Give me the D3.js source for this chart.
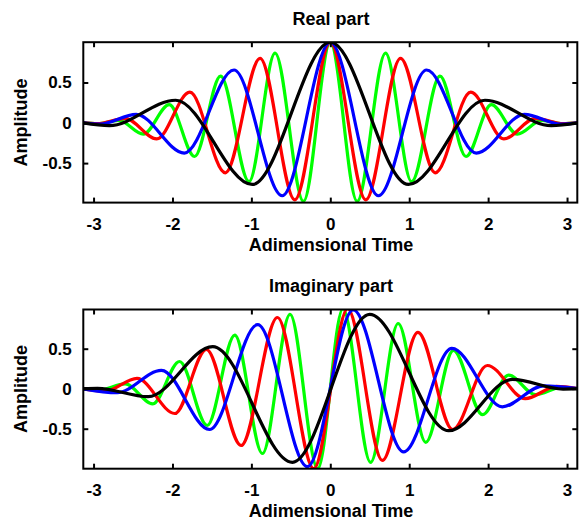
<!DOCTYPE html>
<html>
<head>
<meta charset="utf-8">
<script src="https://cdn.jsdelivr.net/npm/d3@7"></script>
<style>
  body { margin: 0; background: #fff; }
  text { font-family: "Liberation Sans", Arial, Helvetica, sans-serif; font-weight: bold; fill: #000; }
</style>
</head>
<body>
<svg id="chart" width="582" height="521"></svg>
<script>
// Tick values and labels
const xTicks = [-3, -2, -1, 0, 1, 2, 3];
const xTickLabels = ["-3", "-2", "-1", "0", "1", "2", "3"];
const yTicks = [-0.5, 0, 0.5];
const yTickLabels = ["-0.5", "0", "0.5"];

const seriesNames = ["green", "red", "blue", "black"];
const seriesColors = ["#00ff00", "#ff0000", "#0000ff", "#000000"];

// Extrema [time, amplitude] of each wavelet – real part
const realGreen = [[-3.14,0],[-2.95,-0.01],[-2.68,0.03],[-2.37,-0.14],[-2.04,0.225],[-1.72,-0.418],[-1.39,0.58],[-1.03,-0.73],[-0.70,0.865],[-0.34,-0.975],[0,1],[0.34,-0.975],[0.70,0.865],[1.03,-0.73],[1.39,0.58],[1.72,-0.418],[2.04,0.225],[2.37,-0.14],[2.68,0.03],[2.95,-0.01],[3.14,0]];
const realRed = [[-3.14,0],[-2.95,-0.01],[-2.6,0.055],[-2.2,-0.2],[-1.78,0.38],[-1.33,-0.62],[-0.89,0.8],[-0.45,-0.955],[0,1],[0.45,-0.955],[0.89,0.8],[1.33,-0.62],[1.78,0.38],[2.2,-0.2],[2.6,0.055],[2.95,-0.01],[3.14,0]];
const realBlue = [[-3.14,0],[-2.92,-0.015],[-2.46,0.105],[-1.85,-0.375],[-1.22,0.655],[-0.61,-0.905],[0,1],[0.61,-0.905],[1.22,0.655],[1.85,-0.375],[2.46,0.105],[2.92,-0.015],[3.14,0]];
const realBlack = [[-3.14,0],[-2.8,-0.035],[-1.96,0.28],[-0.99,-0.765],[0,1],[0.99,-0.765],[1.96,0.28],[2.8,-0.035],[3.14,0]];

// Extrema [time, amplitude] of each wavelet – imaginary part
const imagGreen = [[-3.14,0],[-2.93,-0.015],[-2.6,0.06],[-2.25,-0.19],[-1.91,0.34],[-1.56,-0.46],[-1.21,0.67],[-0.86,-0.81],[-0.51,0.93],[-0.16,-1.0],[0.16,1.0],[0.51,-0.92],[0.86,0.815],[1.21,-0.67],[1.56,0.48],[1.93,-0.325],[2.26,0.17],[2.6,-0.075],[2.93,0.015],[3.14,0]];
const imagRed = [[-3.14,0],[-2.85,-0.03],[-2.45,0.13],[-1.97,-0.31],[-1.57,0.49],[-1.13,-0.71],[-0.67,0.89],[-0.21,-1.0],[0.22,1.0],[0.66,-0.895],[1.11,0.705],[1.55,-0.51],[1.99,0.29],[2.47,-0.125],[2.87,0.03],[3.14,0]];
const imagBlue = [[-3.14,0],[-2.7,-0.05],[-2.14,0.23],[-1.53,-0.51],[-0.92,0.80],[-0.29,-0.975],[0.29,0.985],[0.93,-0.79],[1.54,0.505],[2.18,-0.226],[2.7,0.035],[3.14,0]];
const imagBlack = [[-3.14,0],[-2.95,0.005],[-2.31,-0.10],[-1.49,0.525],[-0.48,-0.92],[0.5,0.93],[1.5,-0.525],[2.31,0.116],[2.95,-0.005],[3.14,0]];

const panels = [
  { id: "re", title: "Real part", yDomain: [-0.99, 1.0], top: 42.2, bottom: 202.6,
    series: [realGreen, realRed, realBlue, realBlack] },
  { id: "im", title: "Imaginary part", yDomain: [-1.0, 0.99], top: 309.5, bottom: 468.7,
    series: [imagGreen, imagRed, imagBlue, imagBlack] }
];

const svg = d3.select("#chart");
const left = 83.3, right = 577.3;
const x = d3.scaleLinear().domain([-3.13, 3.13]).range([left, right]);
const fontSize = 17;

panels.forEach(p => {
  const y = d3.scaleLinear().domain(p.yDomain).range([p.bottom, p.top]);
  const g = svg.append("g");

  g.append("clipPath").attr("id", "clip-" + p.id)
    .append("rect")
    .attr("x", left).attr("y", p.top)
    .attr("width", right - left).attr("height", p.bottom - p.top);

  const line = d3.line()
    .x(d => x(d[0]))
    .y(d => y(d[1]))
    .curve(d3.curveMonotoneX);

  const curves = g.append("g").attr("clip-path", `url(#clip-${p.id})`);
  p.series.forEach((s, i) => {
    curves.append("path")
      .datum(s)
      .attr("class", "wave " + seriesNames[i])
      .attr("d", line)
      .attr("fill", "none")
      .attr("stroke", seriesColors[i])
      .attr("stroke-width", 3.2)
      .attr("stroke-linejoin", "round");
  });

  // Axes with inward ticks on all four sides
  const tick = 5;
  const xb = d3.axisBottom(x).tickValues(xTicks)
    .tickFormat((d, i) => xTickLabels[i]).tickSize(-tick).tickPadding(15);
  const xt = d3.axisTop(x).tickValues(xTicks).tickFormat("").tickSize(-tick);
  const yl = d3.axisLeft(y).tickValues(yTicks)
    .tickFormat((d, i) => yTickLabels[i]).tickSize(-tick).tickPadding(11.5);
  const yr = d3.axisRight(y).tickValues(yTicks).tickFormat("").tickSize(-tick);

  const axes = [
    g.append("g").attr("transform", `translate(0,${p.bottom})`).call(xb),
    g.append("g").attr("transform", `translate(0,${p.top})`).call(xt),
    g.append("g").attr("transform", `translate(${left},0)`).call(yl),
    g.append("g").attr("transform", `translate(${right},0)`).call(yr)
  ];
  axes.forEach(a => {
    a.select(".domain").remove();
    a.selectAll("line").attr("stroke", "#000").attr("stroke-width", 2);
    a.selectAll("text").attr("font-size", fontSize)
      .attr("font-family", "Liberation Sans, Arial, sans-serif")
      .attr("font-weight", "bold").attr("fill", "#000");
  });

  g.append("rect")
    .attr("x", left).attr("y", p.top)
    .attr("width", right - left).attr("height", p.bottom - p.top)
    .attr("fill", "none").attr("stroke", "#000").attr("stroke-width", 2);

  // Titles and axis labels
  g.append("text").attr("x", 331).attr("y", p.top - 17.7)
    .attr("text-anchor", "middle").attr("font-size", 18).text(p.title);
  g.append("text").attr("x", 331).attr("y", p.bottom + 48.4)
    .attr("text-anchor", "middle").attr("font-size", 18).text("Adimensional Time");
  g.append("text")
    .attr("transform", `translate(27,${(p.top + p.bottom) / 2}) rotate(-90)`)
    .attr("text-anchor", "middle").attr("font-size", 18).text("Amplitude");
});
</script>
</body>
</html>
